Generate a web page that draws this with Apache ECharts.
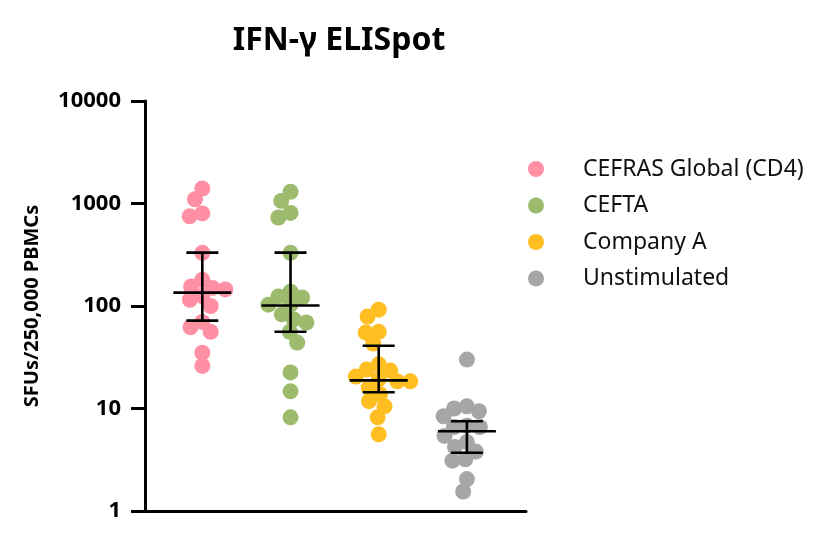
<!DOCTYPE html>
<html>
<head>
<meta charset="utf-8">
<script src="https://cdn.jsdelivr.net/npm/echarts@6/dist/echarts.min.js"></script>
<style>
  html, body { margin: 0; padding: 0; background: #fff; }
  #chart { width: 828px; height: 533px; }
</style>
</head>
<body>
<div id="chart"></div>
<script>
// groups, in order along the x axis
const groups = ['CEFRAS Global (CD4)', 'CEFTA', 'Company A', 'Unstimulated']
const colors = ['#FF8FA2', '#9CBB6C', '#FFBE22', '#A6A6A6']

// SFUs per 250,000 PBMCs
const cefrasValues = [1400, 1100, 800, 750, 330, 180, 155, 150, 145, 125, 115, 100, 70, 62, 56, 35, 26]
const ceftaValues = [1300, 1060, 810, 730, 330, 138, 124, 121, 103, 103, 83, 74, 69, 56, 44, 22.5, 14.7, 8.2]
const companyAValues = [92, 79, 56, 55, 43, 27, 24, 23.5, 20.5, 19.3, 18.4, 18.4, 16, 13.8, 11.8, 10.5, 8.2, 5.6]
const unstimValues = [30, 10.5, 10, 9.4, 8.4, 6.8, 6.6, 6.6, 5.4, 4.7, 4.2, 3.8, 3.2, 3.1, 2.05, 1.55]

// median with interquartile range
const medians = [135, 101, 18.8, 6.0]
const q1 = [72, 56, 14.4, 3.7]
const q3 = [332, 332, 41, 7.5]

const yTicks = [1, 10, 100, 1000, 10000]

// layout
const gridLeft = 145, gridRight = 302, gridTop = 101, gridBottom = 22
const xMin = 0.35, xMax = 4.67
const plotW = 828 - gridLeft - gridRight
const plotH = 533 - gridTop - gridBottom
const pxPerX = plotW / (xMax - xMin)
const pxPerDecade = plotH / 4
const dotSize = 16
const minDist = 13

// simple beeswarm: put each dot as close to the centre line as it can go
function swarm (values) {
  const placed = []
  const order = values.map((v, i) => i).sort((a, b) => values[b] - values[a])
  const offsets = new Array(values.length).fill(0)
  order.forEach(i => {
    const y = -Math.log10(values[i]) * pxPerDecade
    const near = placed.filter(p => Math.abs(p.y - y) < minDist)
    const cands = [0]
    near.forEach(p => {
      const dx = Math.sqrt(minDist * minDist - (p.y - y) * (p.y - y))
      cands.push(p.x + dx, p.x - dx)
    })
    cands.sort((a, b) => Math.abs(a) - Math.abs(b) || a - b)
    const x = cands.find(c => near.every(p => Math.hypot(p.x - c, p.y - y) >= minDist - 0.01))
    placed.push({ x: x, y: y })
    offsets[i] = x
  })
  return offsets
}

const allValues = [cefrasValues, ceftaValues, companyAValues, unstimValues]

const dotSeries = groups.map((name, gi) => {
  const offs = swarm(allValues[gi])
  return {
    name: name,
    type: 'scatter',
    symbol: 'circle',
    symbolSize: dotSize,
    itemStyle: { color: colors[gi], opacity: 1 },
    data: allValues[gi].map((v, i) => [gi + 1 + offs[i] / pxPerX, v]),
    z: 2
  }
})

const barData = groups.map((g, i) => [i + 1, medians[i], q1[i], q3[i]])

const errorSeries = {
  type: 'custom',
  name: 'median',
  data: barData,
  z: 5,
  renderItem (params, api) {
    const x = api.value(0)
    const mid = api.coord([x, api.value(1)])
    const lo = api.coord([x, api.value(2)])
    const hi = api.coord([x, api.value(3)])
    const style = { stroke: '#000', lineWidth: 2.6 }
    const medHalf = 29, capHalf = 16
    return {
      type: 'group',
      children: [
        { type: 'line', shape: { x1: mid[0] - medHalf, y1: mid[1], x2: mid[0] + medHalf, y2: mid[1] }, style: style },
        { type: 'line', shape: { x1: lo[0], y1: lo[1], x2: hi[0], y2: hi[1] }, style: style },
        { type: 'line', shape: { x1: lo[0] - capHalf, y1: lo[1], x2: lo[0] + capHalf, y2: lo[1] }, style: style },
        { type: 'line', shape: { x1: hi[0] - capHalf, y1: hi[1], x2: hi[0] + capHalf, y2: hi[1] }, style: style }
      ]
    }
  }
}

const chart = echarts.init(document.getElementById('chart'), null, { renderer: 'canvas' })

chart.setOption({
  backgroundColor: '#fff',
  animation: false,
  textStyle: { fontFamily: 'Noto Sans' },
  title: {
    text: 'IFN-γ ELISpot',
    left: 334,
    top: 20,
    textAlign: 'center',
    textStyle: { fontSize: 32, fontWeight: 'bold', color: '#000', fontFamily: 'Noto Sans' }
  },
  legend: {
    data: groups,
    orient: 'vertical',
    left: 528,
    top: 157,
    padding: 0,
    icon: 'circle',
    itemWidth: 16,
    itemHeight: 16,
    itemGap: 12.5,
    selectedMode: false,
    textStyle: { fontSize: 23, color: '#111', lineHeight: 24, padding: [0, 0, 0, 34], fontFamily: 'Noto Sans' }
  },
  grid: { left: gridLeft, right: gridRight, top: gridTop, bottom: gridBottom, containLabel: false },
  xAxis: {
    type: 'value',
    min: xMin,
    max: xMax,
    axisLine: { show: true, onZero: false, lineStyle: { color: '#000', width: 3 } },
    axisTick: { show: false },
    axisLabel: { show: false },
    splitLine: { show: false }
  },
  yAxis: {
    type: 'log',
    logBase: 10,
    min: yTicks[0],
    max: yTicks[yTicks.length - 1],
    name: 'SFUs/250,000 PBMCs',
    nameLocation: 'middle',
    nameRotate: 90,
    nameGap: 103,
    nameTextStyle: { fontSize: 20, fontWeight: 'bold', color: '#000', fontFamily: 'Noto Sans' },
    axisLine: { show: true, lineStyle: { color: '#000', width: 3 } },
    axisTick: { show: true, length: 14, lineStyle: { color: '#000', width: 3 } },
    axisLabel: {
      fontSize: 22,
      fontWeight: 'bold',
      color: '#000',
      margin: 24,
      fontFamily: 'Noto Sans',
      formatter: v => String(Math.round(v))
    },
    splitLine: { show: false },
    minorTick: { show: false }
  },
  series: dotSeries.concat([errorSeries])
})
</script>
</body>
</html>
